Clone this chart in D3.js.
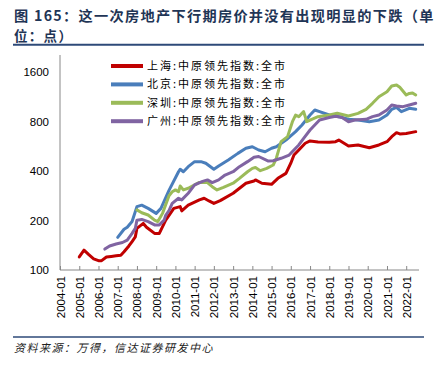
<!DOCTYPE html>
<html><head><meta charset="utf-8">
<script src="https://cdn.jsdelivr.net/npm/d3@7"></script>
<style>
html,body{margin:0;padding:0;background:#fff;}
svg{display:block;}
</style></head>
<body>
<svg id="c" width="444" height="365"></svg>
<script>
const titleLine1 = "图 165：这一次房地产下行期房价并没有出现明显的下跌（单";
const titleLine2 = "位：点）";
const sourceText = "资料来源：万得，信达证券研发中心";
const seriesNames = ["上海:中原领先指数:全市","北京:中原领先指数:全市","深圳:中原领先指数:全市","广州:中原领先指数:全市"];
const seriesColors = ["#c00000","#4a7ebb","#9bbb59","#8064a2"];
const xTickLabels = ["2004-01","2005-01","2006-01","2007-01","2008-01","2009-01","2010-01","2011-01","2012-01","2013-01","2014-01","2015-01","2016-01","2017-01","2018-01","2019-01","2020-01","2021-01","2022-01"];
const yTickValues = [100,200,400,800,1600];

const shDates = ["2005-01","2005-04","2005-07","2005-10","2006-01","2006-03","2006-06","2006-09","2006-12","2007-03","2007-05","2007-08","2007-10","2007-12","2008-01","2008-05","2008-07","2008-12","2009-03","2009-07","2009-12","2010-04","2010-05","2010-09","2011-04","2011-07","2011-10","2012-01","2012-05","2013-01","2013-09","2014-02","2014-03","2014-07","2015-01","2015-05","2015-10","2016-01","2016-03","2016-06","2016-10","2017-01","2017-06","2018-01","2018-05","2018-07","2019-01","2019-07","2020-02","2020-08","2021-01","2021-04","2021-07","2021-09","2022-01","2022-07"];
const shValues = [120,132,124,117,114,114,120,121,122,123,129,140,149,159,179,192,182,167,167,201,237,243,229,248,267,273,263,254,264,293,337,348,353,337,332,361,387,446,500,537,590,609,600,598,603,617,568,576,554,576,603,647,684,672,677,694];

const bjDates = ["2007-01","2007-05","2007-07","2007-10","2008-01","2008-04","2008-08","2009-01","2009-04","2009-09","2010-03","2010-04","2010-06","2010-09","2011-01","2011-05","2011-08","2012-01","2012-04","2012-10","2013-04","2013-09","2014-01","2014-05","2014-09","2015-01","2015-04","2015-10","2016-04","2016-08","2017-01","2017-04","2017-07","2018-01","2018-07","2019-01","2019-07","2020-02","2020-08","2021-01","2021-04","2021-07","2021-10","2022-03","2022-07"];
const bjValues = [158,177,182,197,243,248,237,221,237,305,396,410,396,425,456,456,446,410,429,467,512,550,562,537,524,550,562,617,694,762,876,940,918,876,856,825,817,798,817,876,949,976,918,962,949];

const szDates = ["2008-01","2008-04","2008-08","2008-12","2009-02","2009-05","2009-09","2009-11","2010-01","2010-03","2010-04","2010-06","2010-09","2011-01","2011-04","2011-09","2011-12","2012-03","2012-07","2013-01","2013-05","2013-10","2014-01","2014-03","2014-06","2014-10","2015-02","2015-04","2015-07","2015-11","2016-02","2016-04","2016-06","2016-08","2016-09","2016-11","2017-02","2017-06","2018-01","2018-06","2019-01","2019-07","2019-12","2020-04","2020-08","2021-01","2021-04","2021-07","2021-09","2022-01","2022-03","2022-05","2022-07"];
const szValues = [232,223,216,201,197,221,283,299,307,299,324,307,314,329,341,340,321,307,318,337,361,396,415,420,402,415,435,478,603,647,798,876,856,897,918,798,825,856,876,897,864,897,949,1032,1132,1214,1315,1334,1291,1159,1185,1194,1159];

const gzDates = ["2006-05","2006-08","2006-12","2007-04","2007-07","2007-10","2007-12","2008-01","2008-04","2008-08","2008-12","2009-03","2009-06","2009-07","2009-09","2009-11","2010-03","2010-05","2010-09","2011-01","2011-06","2011-09","2011-12","2012-04","2012-08","2013-01","2013-05","2013-10","2014-02","2014-05","2014-11","2015-02","2015-07","2015-12","2016-03","2016-06","2016-09","2017-01","2017-04","2017-07","2018-01","2018-05","2018-09","2019-01","2019-05","2019-12","2020-04","2020-08","2021-01","2021-04","2021-07","2021-11","2022-03","2022-07"];
const gzValues = [134,140,144,147,152,167,179,201,203,197,188,188,201,215,230,254,273,267,293,329,346,353,340,353,378,396,425,456,485,490,460,462,478,500,537,576,632,710,762,817,846,860,846,798,817,825,856,876,940,1008,994,985,1008,1032];

const parse = d3.timeParse("%Y-%m");
const allSeries = [
  {dates: shDates, values: shValues},
  {dates: bjDates, values: bjValues},
  {dates: szDates, values: szValues},
  {dates: gzDates, values: gzValues}
].map((s,i)=>({name: seriesNames[i], color: seriesColors[i], pts: s.dates.map((d,j)=>({t: parse(d), v: s.values[j]}))}));

const svg = d3.select("#c");
const L = 60, R = 419, T = 55, B = 270;
const x = d3.scaleTime().domain([parse("2004-01"), parse("2022-09")]).range([L, R]);
const y = d3.scaleLog().domain([100, 2030]).range([B, T]);

// title
const titleColor = "#1f3556";
svg.append("text").attr("x", 14).attr("y", 21).attr("fill", titleColor)
  .attr("font-family", "'Noto Sans CJK SC', sans-serif").attr("font-weight", "bold")
  .attr("font-size", 14.2).attr("letter-spacing", 1.3).text(titleLine1);
svg.append("text").attr("x", 14).attr("y", 41).attr("fill", titleColor)
  .attr("font-family", "'Noto Sans CJK SC', sans-serif").attr("font-weight", "bold")
  .attr("font-size", 13.5).attr("letter-spacing", 1.3).text(titleLine2);
svg.append("line").attr("x1", 13).attr("x2", 424).attr("y1", 44.8).attr("y2", 44.8)
  .attr("stroke", "#2e4a78").attr("stroke-width", 2);

// axes
const yAxis = svg.append("g").attr("transform", `translate(${L},0)`)
  .call(d3.axisLeft(y).tickValues(yTickValues).tickSize(0).tickPadding(11).tickFormat(d3.format("d")));
yAxis.select(".domain").attr("stroke", "#888").attr("d", `M0,${T}V${B}`);
yAxis.selectAll("text").attr("font-family", "'Liberation Sans', Arial, sans-serif").attr("font-size", 11.5).attr("fill", "#000");

const xTicks = xTickLabels.map(parse);
const xAxis = svg.append("g").attr("transform", `translate(0,${B})`)
  .call(d3.axisTop(x).tickValues(xTicks).tickSize(4).tickFormat(d3.timeFormat("%Y-%m")));
xAxis.select(".domain").attr("stroke", "#888").attr("d", `M${L},0H${R}`);
xAxis.selectAll(".tick line").attr("stroke", "#888");
xAxis.selectAll("text")
  .attr("font-family", "'Liberation Sans', Arial, sans-serif").attr("font-size", 11.5).attr("fill", "#000")
  .attr("transform", "rotate(-90)").attr("text-anchor", "end")
  .attr("x", -6).attr("y", 0).attr("dy", "0.35em");

// lines
const line = d3.line().x(d => x(d.t)).y(d => y(d.v));
svg.append("g").selectAll("path").data(allSeries).join("path")
  .attr("d", s => line(s.pts)).attr("fill", "none")
  .attr("stroke", s => s.color).attr("stroke-width", 3)
  .attr("stroke-linejoin", "round").attr("stroke-linecap", "round");

// legend
const lg = svg.append("g");
allSeries.forEach((s, i) => {
  const yy = 66 + i * 18.4;
  lg.append("line").attr("x1", 111).attr("x2", 143).attr("y1", yy).attr("y2", yy)
    .attr("stroke", s.color).attr("stroke-width", 4);
  lg.append("text").attr("x", 147).attr("y", yy).attr("dy", "0.36em")
    .attr("font-family", "'Noto Sans CJK SC', sans-serif").attr("font-size", 11)
    .attr("letter-spacing", 2).attr("fill", "#000").text(s.name);
});

// bottom rule + source
svg.append("line").attr("x1", 13).attr("x2", 424).attr("y1", 337).attr("y2", 337)
  .attr("stroke", "#2e4a78").attr("stroke-width", 1.5);
svg.append("text").attr("x", 14).attr("y", 352).attr("fill", "#222")
  .attr("font-family", "'Noto Sans CJK SC', sans-serif").attr("font-style", "italic")
  .attr("font-size", 11).attr("letter-spacing", 1.5).text(sourceText);
</script>
</body></html>
